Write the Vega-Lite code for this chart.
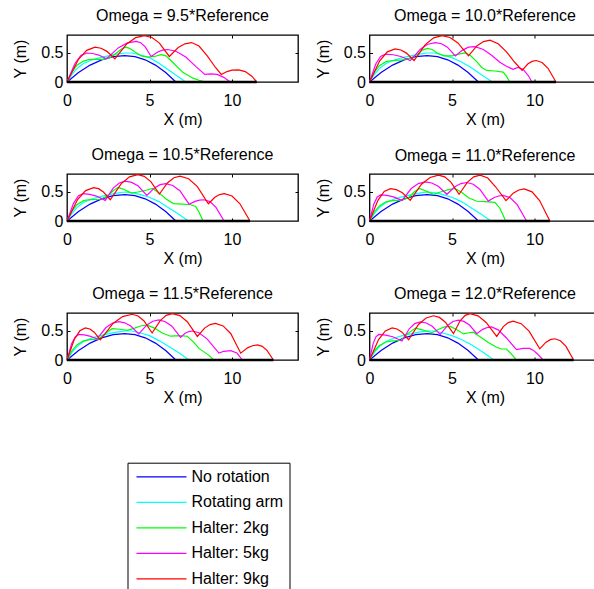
{
  "$schema": "https://vega.github.io/schema/vega-lite/v6.json",
  "background": "white",
  "padding": {"left": 12, "top": 7, "right": 0, "bottom": 0},
  "config": {
    "font": "Liberation Sans",
    "view": {"stroke": "black", "strokeWidth": 1.3},
    "axis": {"grid": false, "domain": false, "ticks": true, "tickSize": -3, "tickColor": "black", "tickWidth": 1, "labelFont": "Liberation Sans", "labelFontSize": 16, "labelColor": "black", "titleFont": "Liberation Sans", "titleFontSize": 16, "titleFontWeight": "normal", "titleColor": "black"},
    "axisX": {"labelPadding": 13, "titlePadding": 3.5, "labelFlush": false},
    "axisY": {"labelPadding": 7, "titlePadding": 12},
    "title": {"font": "Liberation Sans", "fontSize": 16, "fontWeight": "normal", "color": "black", "offset": 9, "anchor": "middle", "frame": "group"}
  },
  "resolve": {"scale": {"color": "shared"}, "legend": {"color": "shared"}},
  "bounds": "flush",
  "columns": 2,
  "spacing": {"row": 92, "column": 71.5},
  "concat": [
      {"width": 231, "height": 47, "title": "Omega = 9.5*Reference", "resolve": {"axis": {"x": "independent", "y": "independent"}}, "layer": [
        {"data": {"values": [
          {"s":"No rotation","x":0,"y":0},{"s":"No rotation","x":0.7,"y":0.164},{"s":"No rotation","x":1.4,"y":0.291},{"s":"No rotation","x":2.1,"y":0.382},{"s":"No rotation","x":2.8,"y":0.437},{"s":"No rotation","x":3.5,"y":0.455},{"s":"No rotation","x":4.12,"y":0.437},{"s":"No rotation","x":4.74,"y":0.382},{"s":"No rotation","x":5.36,"y":0.291},{"s":"No rotation","x":5.98,"y":0.164},{"s":"No rotation","x":6.6,"y":0},
          {"s":"Rotating arm","x":0,"y":0},{"s":"Rotating arm","x":0.3,"y":0.13},{"s":"Rotating arm","x":0.6,"y":0.23},{"s":"Rotating arm","x":1,"y":0.32},{"s":"Rotating arm","x":1.5,"y":0.38},{"s":"Rotating arm","x":2,"y":0.42},{"s":"Rotating arm","x":2.5,"y":0.45},{"s":"Rotating arm","x":3,"y":0.48},{"s":"Rotating arm","x":3.5,"y":0.5},{"s":"Rotating arm","x":3.9,"y":0.5},{"s":"Rotating arm","x":4.4,"y":0.47},{"s":"Rotating arm","x":5,"y":0.42},{"s":"Rotating arm","x":5.6,"y":0.32},{"s":"Rotating arm","x":6.2,"y":0.2},{"s":"Rotating arm","x":6.7,"y":0.1},{"s":"Rotating arm","x":7.2,"y":0},
          {"s":"Halter: 2kg","x":0,"y":0},{"s":"Halter: 2kg","x":0.3,"y":0.17},{"s":"Halter: 2kg","x":0.6,"y":0.29},{"s":"Halter: 2kg","x":1,"y":0.36},{"s":"Halter: 2kg","x":1.3,"y":0.385},{"s":"Halter: 2kg","x":1.7,"y":0.39},{"s":"Halter: 2kg","x":2.2,"y":0.39},{"s":"Halter: 2kg","x":2.6,"y":0.42},{"s":"Halter: 2kg","x":3,"y":0.5},{"s":"Halter: 2kg","x":3.3,"y":0.57},{"s":"Halter: 2kg","x":3.55,"y":0.6},{"s":"Halter: 2kg","x":3.8,"y":0.58},{"s":"Halter: 2kg","x":4.1,"y":0.52},{"s":"Halter: 2kg","x":4.5,"y":0.45},{"s":"Halter: 2kg","x":4.9,"y":0.43},{"s":"Halter: 2kg","x":5.3,"y":0.44},{"s":"Halter: 2kg","x":5.7,"y":0.47},{"s":"Halter: 2kg","x":6,"y":0.45},{"s":"Halter: 2kg","x":6.4,"y":0.34},{"s":"Halter: 2kg","x":7,"y":0.17},{"s":"Halter: 2kg","x":7.6,"y":0.07},{"s":"Halter: 2kg","x":8,"y":0.03},{"s":"Halter: 2kg","x":8.4,"y":0},
          {"s":"Halter: 5kg","x":0,"y":0},{"s":"Halter: 5kg","x":0.48,"y":0.32},{"s":"Halter: 5kg","x":0.84,"y":0.455},{"s":"Halter: 5kg","x":1.2,"y":0.5},{"s":"Halter: 5kg","x":1.56,"y":0.491},{"s":"Halter: 5kg","x":1.92,"y":0.464},{"s":"Halter: 5kg","x":2.4,"y":0.4},{"s":"Halter: 5kg","x":3.12,"y":0.592},{"s":"Halter: 5kg","x":3.66,"y":0.673},{"s":"Halter: 5kg","x":4.2,"y":0.7},{"s":"Halter: 5kg","x":4.47,"y":0.677},{"s":"Halter: 5kg","x":4.74,"y":0.606},{"s":"Halter: 5kg","x":5.1,"y":0.44},{"s":"Halter: 5kg","x":5.5,"y":0.517},{"s":"Halter: 5kg","x":5.8,"y":0.549},{"s":"Halter: 5kg","x":6.1,"y":0.56},{"s":"Halter: 5kg","x":6.6,"y":0.53},{"s":"Halter: 5kg","x":7.2,"y":0.43},{"s":"Halter: 5kg","x":7.8,"y":0.27},{"s":"Halter: 5kg","x":8.35,"y":0.13},{"s":"Halter: 5kg","x":8.7,"y":0.14},{"s":"Halter: 5kg","x":9.1,"y":0.13},{"s":"Halter: 5kg","x":9.5,"y":0.08},{"s":"Halter: 5kg","x":9.9,"y":0},
          {"s":"Halter: 9kg","x":0,"y":0},{"s":"Halter: 9kg","x":0.68,"y":0.384},{"s":"Halter: 9kg","x":1.19,"y":0.546},{"s":"Halter: 9kg","x":1.7,"y":0.6},{"s":"Halter: 9kg","x":2.06,"y":0.582},{"s":"Halter: 9kg","x":2.42,"y":0.528},{"s":"Halter: 9kg","x":2.9,"y":0.4},{"s":"Halter: 9kg","x":3.62,"y":0.656},{"s":"Halter: 9kg","x":4.16,"y":0.764},{"s":"Halter: 9kg","x":4.7,"y":0.8},{"s":"Halter: 9kg","x":5.15,"y":0.768},{"s":"Halter: 9kg","x":5.6,"y":0.67},{"s":"Halter: 9kg","x":6.2,"y":0.44},{"s":"Halter: 9kg","x":6.74,"y":0.594},{"s":"Halter: 9kg","x":7.15,"y":0.658},{"s":"Halter: 9kg","x":7.55,"y":0.68},{"s":"Halter: 9kg","x":8,"y":0.62},{"s":"Halter: 9kg","x":8.5,"y":0.45},{"s":"Halter: 9kg","x":9,"y":0.25},{"s":"Halter: 9kg","x":9.35,"y":0.13},{"s":"Halter: 9kg","x":9.7,"y":0.18},{"s":"Halter: 9kg","x":10,"y":0.205},{"s":"Halter: 9kg","x":10.4,"y":0.21},{"s":"Halter: 9kg","x":10.8,"y":0.18},{"s":"Halter: 9kg","x":11.2,"y":0.1},{"s":"Halter: 9kg","x":11.5,"y":0}
        ]},
         "mark": {"type": "line", "strokeWidth": 1.2},
         "encoding": {
           "x": {"field": "x", "type": "quantitative", "scale": {"domain": [0, 14], "nice": false}, "axis": {"values": [0, 5, 10], "format": "d", "title": "X (m)"}},
           "y": {"field": "y", "type": "quantitative", "scale": {"domain": [0, 0.81], "nice": false}, "axis": {"values": [0, 0.5], "format": "~g", "title": "Y (m)"}},
           "color": {"field": "s", "type": "nominal", "scale": {"domain": ["No rotation", "Rotating arm", "Halter: 2kg", "Halter: 5kg", "Halter: 9kg"], "range": ["#0000ff", "#00ffff", "#00ff00", "#ff00ff", "#ff0000"]},
             "legend": {"orient": "none", "legendX": 60.5, "legendY": 427.7, "title": null, "strokeColor": "black", "fillColor": "white", "padding": 5.6, "symbolType": "M-3.333,0H3.333", "symbolSize": 225, "symbolStrokeWidth": 1.2, "symbolOffset": 19.9, "labelFontSize": 16, "labelFont": "Liberation Sans", "labelColor": "black", "labelOffset": 21.5, "rowPadding": 8.5, "columnPadding": 2, "cornerRadius": 0}}
         }},
        {"data": {"values": [{"x": 0, "x2": 11.5, "y": 0}]}, "mark": {"type": "rule", "color": "black", "strokeWidth": 2.5},
         "encoding": {"x": {"field": "x", "type": "quantitative", "axis": {"orient": "top", "values": [5, 10], "labels": false, "title": null}}, "x2": {"field": "x2"}, "y": {"field": "y", "type": "quantitative", "axis": {"orient": "right", "values": [0.5], "labels": false, "title": null}}}}
      ]},
      {"width": 231, "height": 47, "title": "Omega = 10.0*Reference", "resolve": {"axis": {"x": "independent", "y": "independent"}}, "layer": [
        {"data": {"values": [
          {"s":"No rotation","x":0,"y":0},{"s":"No rotation","x":0.7,"y":0.164},{"s":"No rotation","x":1.4,"y":0.291},{"s":"No rotation","x":2.1,"y":0.382},{"s":"No rotation","x":2.8,"y":0.437},{"s":"No rotation","x":3.5,"y":0.455},{"s":"No rotation","x":4.12,"y":0.437},{"s":"No rotation","x":4.74,"y":0.382},{"s":"No rotation","x":5.36,"y":0.291},{"s":"No rotation","x":5.98,"y":0.164},{"s":"No rotation","x":6.6,"y":0},
          {"s":"Rotating arm","x":0,"y":0},{"s":"Rotating arm","x":0.3,"y":0.13},{"s":"Rotating arm","x":0.6,"y":0.23},{"s":"Rotating arm","x":1,"y":0.32},{"s":"Rotating arm","x":1.5,"y":0.38},{"s":"Rotating arm","x":2,"y":0.42},{"s":"Rotating arm","x":2.5,"y":0.45},{"s":"Rotating arm","x":3,"y":0.48},{"s":"Rotating arm","x":3.5,"y":0.5},{"s":"Rotating arm","x":3.9,"y":0.5},{"s":"Rotating arm","x":4.4,"y":0.47},{"s":"Rotating arm","x":5,"y":0.42},{"s":"Rotating arm","x":5.6,"y":0.34},{"s":"Rotating arm","x":6.2,"y":0.24},{"s":"Rotating arm","x":6.8,"y":0.12},{"s":"Rotating arm","x":7.45,"y":0},
          {"s":"Halter: 2kg","x":0,"y":0},{"s":"Halter: 2kg","x":0.3,"y":0.17},{"s":"Halter: 2kg","x":0.6,"y":0.28},{"s":"Halter: 2kg","x":1,"y":0.35},{"s":"Halter: 2kg","x":1.4,"y":0.37},{"s":"Halter: 2kg","x":2,"y":0.38},{"s":"Halter: 2kg","x":2.5,"y":0.41},{"s":"Halter: 2kg","x":2.9,"y":0.48},{"s":"Halter: 2kg","x":3.2,"y":0.55},{"s":"Halter: 2kg","x":3.5,"y":0.58},{"s":"Halter: 2kg","x":3.8,"y":0.56},{"s":"Halter: 2kg","x":4.1,"y":0.5},{"s":"Halter: 2kg","x":4.5,"y":0.45},{"s":"Halter: 2kg","x":5,"y":0.45},{"s":"Halter: 2kg","x":5.4,"y":0.48},{"s":"Halter: 2kg","x":5.8,"y":0.5},{"s":"Halter: 2kg","x":6.1,"y":0.46},{"s":"Halter: 2kg","x":6.5,"y":0.35},{"s":"Halter: 2kg","x":6.8,"y":0.25},{"s":"Halter: 2kg","x":7.1,"y":0.2},{"s":"Halter: 2kg","x":7.6,"y":0.19},{"s":"Halter: 2kg","x":8.1,"y":0.17},{"s":"Halter: 2kg","x":8.3,"y":0.1},{"s":"Halter: 2kg","x":8.5,"y":0},
          {"s":"Halter: 5kg","x":0,"y":0},{"s":"Halter: 5kg","x":0.38,"y":0.31},{"s":"Halter: 5kg","x":0.67,"y":0.44},{"s":"Halter: 5kg","x":0.97,"y":0.48},{"s":"Halter: 5kg","x":1.43,"y":0.47},{"s":"Halter: 5kg","x":1.9,"y":0.44},{"s":"Halter: 5kg","x":2.47,"y":0.37},{"s":"Halter: 5kg","x":3.08,"y":0.565},{"s":"Halter: 5kg","x":3.53,"y":0.65},{"s":"Halter: 5kg","x":4,"y":0.68},{"s":"Halter: 5kg","x":4.36,"y":0.66},{"s":"Halter: 5kg","x":4.72,"y":0.6},{"s":"Halter: 5kg","x":5.2,"y":0.45},{"s":"Halter: 5kg","x":5.64,"y":0.55},{"s":"Halter: 5kg","x":6,"y":0.6},{"s":"Halter: 5kg","x":6.4,"y":0.61},{"s":"Halter: 5kg","x":6.9,"y":0.56},{"s":"Halter: 5kg","x":7.4,"y":0.46},{"s":"Halter: 5kg","x":7.9,"y":0.34},{"s":"Halter: 5kg","x":8.3,"y":0.27},{"s":"Halter: 5kg","x":8.7,"y":0.22},{"s":"Halter: 5kg","x":9,"y":0.25},{"s":"Halter: 5kg","x":9.3,"y":0.22},{"s":"Halter: 5kg","x":9.6,"y":0.12},{"s":"Halter: 5kg","x":9.85,"y":0},
          {"s":"Halter: 9kg","x":0,"y":0},{"s":"Halter: 9kg","x":0.62,"y":0.365},{"s":"Halter: 9kg","x":1.08,"y":0.52},{"s":"Halter: 9kg","x":1.55,"y":0.57},{"s":"Halter: 9kg","x":1.9,"y":0.552},{"s":"Halter: 9kg","x":2.24,"y":0.498},{"s":"Halter: 9kg","x":2.7,"y":0.37},{"s":"Halter: 9kg","x":3.38,"y":0.645},{"s":"Halter: 9kg","x":3.89,"y":0.761},{"s":"Halter: 9kg","x":4.4,"y":0.8},{"s":"Halter: 9kg","x":4.88,"y":0.768},{"s":"Halter: 9kg","x":5.36,"y":0.674},{"s":"Halter: 9kg","x":6,"y":0.45},{"s":"Halter: 9kg","x":6.52,"y":0.626},{"s":"Halter: 9kg","x":6.91,"y":0.696},{"s":"Halter: 9kg","x":7.3,"y":0.72},{"s":"Halter: 9kg","x":7.8,"y":0.66},{"s":"Halter: 9kg","x":8.3,"y":0.52},{"s":"Halter: 9kg","x":8.8,"y":0.34},{"s":"Halter: 9kg","x":9.25,"y":0.2},{"s":"Halter: 9kg","x":9.59,"y":0.31},{"s":"Halter: 9kg","x":9.85,"y":0.355},{"s":"Halter: 9kg","x":10.1,"y":0.37},{"s":"Halter: 9kg","x":10.46,"y":0.336},{"s":"Halter: 9kg","x":10.82,"y":0.237},{"s":"Halter: 9kg","x":11.3,"y":0}
        ]},
         "mark": {"type": "line", "strokeWidth": 1.2},
         "encoding": {
           "x": {"field": "x", "type": "quantitative", "scale": {"domain": [0, 14], "nice": false}, "axis": {"values": [0, 5, 10], "format": "d", "title": "X (m)"}},
           "y": {"field": "y", "type": "quantitative", "scale": {"domain": [0, 0.81], "nice": false}, "axis": {"values": [0, 0.5], "format": "~g", "title": "Y (m)"}},
           "color": {"field": "s", "type": "nominal", "scale": {"domain": ["No rotation", "Rotating arm", "Halter: 2kg", "Halter: 5kg", "Halter: 9kg"], "range": ["#0000ff", "#00ffff", "#00ff00", "#ff00ff", "#ff0000"]},
             "legend": {"orient": "none", "legendX": 60.5, "legendY": 427.7, "title": null, "strokeColor": "black", "fillColor": "white", "padding": 5.6, "symbolType": "M-3.333,0H3.333", "symbolSize": 225, "symbolStrokeWidth": 1.2, "symbolOffset": 19.9, "labelFontSize": 16, "labelFont": "Liberation Sans", "labelColor": "black", "labelOffset": 21.5, "rowPadding": 8.5, "columnPadding": 2, "cornerRadius": 0}}
         }},
        {"data": {"values": [{"x": 0, "x2": 11.3, "y": 0}]}, "mark": {"type": "rule", "color": "black", "strokeWidth": 2.5},
         "encoding": {"x": {"field": "x", "type": "quantitative", "axis": {"orient": "top", "values": [5, 10], "labels": false, "title": null}}, "x2": {"field": "x2"}, "y": {"field": "y", "type": "quantitative", "axis": {"orient": "right", "values": [0.5], "labels": false, "title": null}}}}
      ]},
      {"width": 231, "height": 47, "title": "Omega = 10.5*Reference", "resolve": {"axis": {"x": "independent", "y": "independent"}}, "layer": [
        {"data": {"values": [
          {"s":"No rotation","x":0,"y":0},{"s":"No rotation","x":0.7,"y":0.164},{"s":"No rotation","x":1.4,"y":0.291},{"s":"No rotation","x":2.1,"y":0.382},{"s":"No rotation","x":2.8,"y":0.437},{"s":"No rotation","x":3.5,"y":0.455},{"s":"No rotation","x":4.12,"y":0.437},{"s":"No rotation","x":4.74,"y":0.382},{"s":"No rotation","x":5.36,"y":0.291},{"s":"No rotation","x":5.98,"y":0.164},{"s":"No rotation","x":6.6,"y":0},
          {"s":"Rotating arm","x":0,"y":0},{"s":"Rotating arm","x":0.3,"y":0.13},{"s":"Rotating arm","x":0.6,"y":0.23},{"s":"Rotating arm","x":1,"y":0.32},{"s":"Rotating arm","x":1.5,"y":0.38},{"s":"Rotating arm","x":2,"y":0.42},{"s":"Rotating arm","x":2.5,"y":0.45},{"s":"Rotating arm","x":3,"y":0.48},{"s":"Rotating arm","x":3.5,"y":0.5},{"s":"Rotating arm","x":3.9,"y":0.49},{"s":"Rotating arm","x":4.4,"y":0.46},{"s":"Rotating arm","x":5,"y":0.41},{"s":"Rotating arm","x":5.6,"y":0.33},{"s":"Rotating arm","x":6.2,"y":0.22},{"s":"Rotating arm","x":6.8,"y":0.11},{"s":"Rotating arm","x":7.35,"y":0},
          {"s":"Halter: 2kg","x":0,"y":0},{"s":"Halter: 2kg","x":0.3,"y":0.17},{"s":"Halter: 2kg","x":0.6,"y":0.28},{"s":"Halter: 2kg","x":1,"y":0.35},{"s":"Halter: 2kg","x":1.4,"y":0.37},{"s":"Halter: 2kg","x":2,"y":0.375},{"s":"Halter: 2kg","x":2.4,"y":0.42},{"s":"Halter: 2kg","x":2.8,"y":0.52},{"s":"Halter: 2kg","x":3.1,"y":0.58},{"s":"Halter: 2kg","x":3.4,"y":0.55},{"s":"Halter: 2kg","x":3.9,"y":0.48},{"s":"Halter: 2kg","x":4.3,"y":0.5},{"s":"Halter: 2kg","x":4.8,"y":0.53},{"s":"Halter: 2kg","x":5.2,"y":0.56},{"s":"Halter: 2kg","x":5.6,"y":0.48},{"s":"Halter: 2kg","x":6,"y":0.38},{"s":"Halter: 2kg","x":6.45,"y":0.3},{"s":"Halter: 2kg","x":7,"y":0.29},{"s":"Halter: 2kg","x":7.5,"y":0.28},{"s":"Halter: 2kg","x":7.8,"y":0.25},{"s":"Halter: 2kg","x":8,"y":0.15},{"s":"Halter: 2kg","x":8.25,"y":0},
          {"s":"Halter: 5kg","x":0,"y":0},{"s":"Halter: 5kg","x":0.39,"y":0.3},{"s":"Halter: 5kg","x":0.68,"y":0.43},{"s":"Halter: 5kg","x":0.97,"y":0.47},{"s":"Halter: 5kg","x":1.38,"y":0.46},{"s":"Halter: 5kg","x":1.78,"y":0.43},{"s":"Halter: 5kg","x":2.32,"y":0.355},{"s":"Halter: 5kg","x":2.8,"y":0.567},{"s":"Halter: 5kg","x":3.17,"y":0.656},{"s":"Halter: 5kg","x":3.53,"y":0.686},{"s":"Halter: 5kg","x":3.92,"y":0.665},{"s":"Halter: 5kg","x":4.32,"y":0.603},{"s":"Halter: 5kg","x":4.84,"y":0.44},{"s":"Halter: 5kg","x":5.3,"y":0.571},{"s":"Halter: 5kg","x":5.64,"y":0.627},{"s":"Halter: 5kg","x":5.99,"y":0.645},{"s":"Halter: 5kg","x":6.41,"y":0.613},{"s":"Halter: 5kg","x":6.84,"y":0.521},{"s":"Halter: 5kg","x":7.4,"y":0.29},{"s":"Halter: 5kg","x":7.76,"y":0.338},{"s":"Halter: 5kg","x":8.03,"y":0.359},{"s":"Halter: 5kg","x":8.3,"y":0.366},{"s":"Halter: 5kg","x":8.67,"y":0.334},{"s":"Halter: 5kg","x":9.03,"y":0.234},{"s":"Halter: 5kg","x":9.52,"y":0},
          {"s":"Halter: 9kg","x":0,"y":0},{"s":"Halter: 9kg","x":0.64,"y":0.369},{"s":"Halter: 9kg","x":1.13,"y":0.524},{"s":"Halter: 9kg","x":1.61,"y":0.576},{"s":"Halter: 9kg","x":1.91,"y":0.557},{"s":"Halter: 9kg","x":2.21,"y":0.5},{"s":"Halter: 9kg","x":2.62,"y":0.366},{"s":"Halter: 9kg","x":3.29,"y":0.644},{"s":"Halter: 9kg","x":3.79,"y":0.761},{"s":"Halter: 9kg","x":4.29,"y":0.8},{"s":"Halter: 9kg","x":4.68,"y":0.77},{"s":"Halter: 9kg","x":5.08,"y":0.679},{"s":"Halter: 9kg","x":5.6,"y":0.465},{"s":"Halter: 9kg","x":6.1,"y":0.66},{"s":"Halter: 9kg","x":6.48,"y":0.745},{"s":"Halter: 9kg","x":6.85,"y":0.773},{"s":"Halter: 9kg","x":7.37,"y":0.729},{"s":"Halter: 9kg","x":7.89,"y":0.597},{"s":"Halter: 9kg","x":8.57,"y":0.297},{"s":"Halter: 9kg","x":8.96,"y":0.408},{"s":"Halter: 9kg","x":9.25,"y":0.455},{"s":"Halter: 9kg","x":9.54,"y":0.47},{"s":"Halter: 9kg","x":10,"y":0.43},{"s":"Halter: 9kg","x":10.47,"y":0.301},{"s":"Halter: 9kg","x":11.09,"y":0}
        ]},
         "mark": {"type": "line", "strokeWidth": 1.2},
         "encoding": {
           "x": {"field": "x", "type": "quantitative", "scale": {"domain": [0, 14], "nice": false}, "axis": {"values": [0, 5, 10], "format": "d", "title": "X (m)"}},
           "y": {"field": "y", "type": "quantitative", "scale": {"domain": [0, 0.81], "nice": false}, "axis": {"values": [0, 0.5], "format": "~g", "title": "Y (m)"}},
           "color": {"field": "s", "type": "nominal", "scale": {"domain": ["No rotation", "Rotating arm", "Halter: 2kg", "Halter: 5kg", "Halter: 9kg"], "range": ["#0000ff", "#00ffff", "#00ff00", "#ff00ff", "#ff0000"]},
             "legend": {"orient": "none", "legendX": 60.5, "legendY": 427.7, "title": null, "strokeColor": "black", "fillColor": "white", "padding": 5.6, "symbolType": "M-3.333,0H3.333", "symbolSize": 225, "symbolStrokeWidth": 1.2, "symbolOffset": 19.9, "labelFontSize": 16, "labelFont": "Liberation Sans", "labelColor": "black", "labelOffset": 21.5, "rowPadding": 8.5, "columnPadding": 2, "cornerRadius": 0}}
         }},
        {"data": {"values": [{"x": 0, "x2": 11.09, "y": 0}]}, "mark": {"type": "rule", "color": "black", "strokeWidth": 2.5},
         "encoding": {"x": {"field": "x", "type": "quantitative", "axis": {"orient": "top", "values": [5, 10], "labels": false, "title": null}}, "x2": {"field": "x2"}, "y": {"field": "y", "type": "quantitative", "axis": {"orient": "right", "values": [0.5], "labels": false, "title": null}}}}
      ]},
      {"width": 231, "height": 47, "title": "Omega = 11.0*Reference", "resolve": {"axis": {"x": "independent", "y": "independent"}}, "layer": [
        {"data": {"values": [
          {"s":"No rotation","x":0,"y":0},{"s":"No rotation","x":0.7,"y":0.164},{"s":"No rotation","x":1.4,"y":0.291},{"s":"No rotation","x":2.1,"y":0.382},{"s":"No rotation","x":2.8,"y":0.437},{"s":"No rotation","x":3.5,"y":0.455},{"s":"No rotation","x":4.12,"y":0.437},{"s":"No rotation","x":4.74,"y":0.382},{"s":"No rotation","x":5.36,"y":0.291},{"s":"No rotation","x":5.98,"y":0.164},{"s":"No rotation","x":6.6,"y":0},
          {"s":"Rotating arm","x":0,"y":0},{"s":"Rotating arm","x":0.3,"y":0.13},{"s":"Rotating arm","x":0.6,"y":0.23},{"s":"Rotating arm","x":1,"y":0.32},{"s":"Rotating arm","x":1.5,"y":0.38},{"s":"Rotating arm","x":2,"y":0.42},{"s":"Rotating arm","x":2.5,"y":0.45},{"s":"Rotating arm","x":3,"y":0.48},{"s":"Rotating arm","x":3.5,"y":0.5},{"s":"Rotating arm","x":3.9,"y":0.49},{"s":"Rotating arm","x":4.4,"y":0.46},{"s":"Rotating arm","x":5,"y":0.41},{"s":"Rotating arm","x":5.6,"y":0.33},{"s":"Rotating arm","x":6.2,"y":0.22},{"s":"Rotating arm","x":6.8,"y":0.11},{"s":"Rotating arm","x":7.35,"y":0},
          {"s":"Halter: 2kg","x":0,"y":0},{"s":"Halter: 2kg","x":0.3,"y":0.16},{"s":"Halter: 2kg","x":0.6,"y":0.26},{"s":"Halter: 2kg","x":1,"y":0.33},{"s":"Halter: 2kg","x":1.4,"y":0.35},{"s":"Halter: 2kg","x":2,"y":0.36},{"s":"Halter: 2kg","x":2.4,"y":0.41},{"s":"Halter: 2kg","x":2.7,"y":0.5},{"s":"Halter: 2kg","x":3.02,"y":0.56},{"s":"Halter: 2kg","x":3.4,"y":0.52},{"s":"Halter: 2kg","x":3.88,"y":0.46},{"s":"Halter: 2kg","x":4.3,"y":0.5},{"s":"Halter: 2kg","x":4.8,"y":0.54},{"s":"Halter: 2kg","x":5.19,"y":0.56},{"s":"Halter: 2kg","x":5.6,"y":0.49},{"s":"Halter: 2kg","x":6,"y":0.4},{"s":"Halter: 2kg","x":6.5,"y":0.34},{"s":"Halter: 2kg","x":7,"y":0.335},{"s":"Halter: 2kg","x":7.6,"y":0.32},{"s":"Halter: 2kg","x":7.9,"y":0.22},{"s":"Halter: 2kg","x":8.1,"y":0.1},{"s":"Halter: 2kg","x":8.25,"y":0},
          {"s":"Halter: 5kg","x":0,"y":0},{"s":"Halter: 5kg","x":0.26,"y":0.29},{"s":"Halter: 5kg","x":0.46,"y":0.41},{"s":"Halter: 5kg","x":0.66,"y":0.45},{"s":"Halter: 5kg","x":1.05,"y":0.441},{"s":"Halter: 5kg","x":1.45,"y":0.416},{"s":"Halter: 5kg","x":1.97,"y":0.355},{"s":"Halter: 5kg","x":2.53,"y":0.559},{"s":"Halter: 5kg","x":2.96,"y":0.645},{"s":"Halter: 5kg","x":3.38,"y":0.674},{"s":"Halter: 5kg","x":3.77,"y":0.655},{"s":"Halter: 5kg","x":4.17,"y":0.598},{"s":"Halter: 5kg","x":4.69,"y":0.46},{"s":"Halter: 5kg","x":5.17,"y":0.589},{"s":"Halter: 5kg","x":5.54,"y":0.645},{"s":"Halter: 5kg","x":5.9,"y":0.663},{"s":"Halter: 5kg","x":6.29,"y":0.634},{"s":"Halter: 5kg","x":6.68,"y":0.548},{"s":"Halter: 5kg","x":7.2,"y":0.343},{"s":"Halter: 5kg","x":7.56,"y":0.405},{"s":"Halter: 5kg","x":7.83,"y":0.431},{"s":"Halter: 5kg","x":8.1,"y":0.44},{"s":"Halter: 5kg","x":8.53,"y":0.4},{"s":"Halter: 5kg","x":8.95,"y":0.282},{"s":"Halter: 5kg","x":9.52,"y":0},
          {"s":"Halter: 9kg","x":0,"y":0},{"s":"Halter: 9kg","x":0.51,"y":0.357},{"s":"Halter: 9kg","x":0.89,"y":0.508},{"s":"Halter: 9kg","x":1.27,"y":0.558},{"s":"Halter: 9kg","x":1.63,"y":0.54},{"s":"Halter: 9kg","x":1.99,"y":0.487},{"s":"Halter: 9kg","x":2.47,"y":0.355},{"s":"Halter: 9kg","x":3.15,"y":0.633},{"s":"Halter: 9kg","x":3.67,"y":0.751},{"s":"Halter: 9kg","x":4.18,"y":0.79},{"s":"Halter: 9kg","x":4.56,"y":0.76},{"s":"Halter: 9kg","x":4.93,"y":0.67},{"s":"Halter: 9kg","x":5.43,"y":0.46},{"s":"Halter: 9kg","x":5.94,"y":0.671},{"s":"Halter: 9kg","x":6.32,"y":0.76},{"s":"Halter: 9kg","x":6.7,"y":0.79},{"s":"Halter: 9kg","x":7.17,"y":0.74},{"s":"Halter: 9kg","x":7.64,"y":0.59},{"s":"Halter: 9kg","x":8.27,"y":0.35},{"s":"Halter: 9kg","x":8.71,"y":0.479},{"s":"Halter: 9kg","x":9.05,"y":0.534},{"s":"Halter: 9kg","x":9.38,"y":0.552},{"s":"Halter: 9kg","x":9.85,"y":0.502},{"s":"Halter: 9kg","x":10.31,"y":0.353},{"s":"Halter: 9kg","x":10.93,"y":0}
        ]},
         "mark": {"type": "line", "strokeWidth": 1.2},
         "encoding": {
           "x": {"field": "x", "type": "quantitative", "scale": {"domain": [0, 14], "nice": false}, "axis": {"values": [0, 5, 10], "format": "d", "title": "X (m)"}},
           "y": {"field": "y", "type": "quantitative", "scale": {"domain": [0, 0.81], "nice": false}, "axis": {"values": [0, 0.5], "format": "~g", "title": "Y (m)"}},
           "color": {"field": "s", "type": "nominal", "scale": {"domain": ["No rotation", "Rotating arm", "Halter: 2kg", "Halter: 5kg", "Halter: 9kg"], "range": ["#0000ff", "#00ffff", "#00ff00", "#ff00ff", "#ff0000"]},
             "legend": {"orient": "none", "legendX": 60.5, "legendY": 427.7, "title": null, "strokeColor": "black", "fillColor": "white", "padding": 5.6, "symbolType": "M-3.333,0H3.333", "symbolSize": 225, "symbolStrokeWidth": 1.2, "symbolOffset": 19.9, "labelFontSize": 16, "labelFont": "Liberation Sans", "labelColor": "black", "labelOffset": 21.5, "rowPadding": 8.5, "columnPadding": 2, "cornerRadius": 0}}
         }},
        {"data": {"values": [{"x": 0, "x2": 10.93, "y": 0}]}, "mark": {"type": "rule", "color": "black", "strokeWidth": 2.5},
         "encoding": {"x": {"field": "x", "type": "quantitative", "axis": {"orient": "top", "values": [5, 10], "labels": false, "title": null}}, "x2": {"field": "x2"}, "y": {"field": "y", "type": "quantitative", "axis": {"orient": "right", "values": [0.5], "labels": false, "title": null}}}}
      ]},
      {"width": 231, "height": 47, "title": "Omega = 11.5*Reference", "resolve": {"axis": {"x": "independent", "y": "independent"}}, "layer": [
        {"data": {"values": [
          {"s":"No rotation","x":0,"y":0},{"s":"No rotation","x":0.7,"y":0.164},{"s":"No rotation","x":1.4,"y":0.291},{"s":"No rotation","x":2.1,"y":0.382},{"s":"No rotation","x":2.8,"y":0.437},{"s":"No rotation","x":3.5,"y":0.455},{"s":"No rotation","x":4.12,"y":0.437},{"s":"No rotation","x":4.74,"y":0.382},{"s":"No rotation","x":5.36,"y":0.291},{"s":"No rotation","x":5.98,"y":0.164},{"s":"No rotation","x":6.6,"y":0},
          {"s":"Rotating arm","x":0,"y":0},{"s":"Rotating arm","x":0.3,"y":0.13},{"s":"Rotating arm","x":0.6,"y":0.23},{"s":"Rotating arm","x":1,"y":0.32},{"s":"Rotating arm","x":1.5,"y":0.38},{"s":"Rotating arm","x":2,"y":0.42},{"s":"Rotating arm","x":2.5,"y":0.45},{"s":"Rotating arm","x":3,"y":0.48},{"s":"Rotating arm","x":3.5,"y":0.5},{"s":"Rotating arm","x":3.9,"y":0.5},{"s":"Rotating arm","x":4.4,"y":0.47},{"s":"Rotating arm","x":5,"y":0.42},{"s":"Rotating arm","x":5.6,"y":0.33},{"s":"Rotating arm","x":6.2,"y":0.23},{"s":"Rotating arm","x":6.8,"y":0.12},{"s":"Rotating arm","x":7.4,"y":0},
          {"s":"Halter: 2kg","x":0,"y":0},{"s":"Halter: 2kg","x":0.3,"y":0.16},{"s":"Halter: 2kg","x":0.6,"y":0.26},{"s":"Halter: 2kg","x":1,"y":0.33},{"s":"Halter: 2kg","x":1.4,"y":0.35},{"s":"Halter: 2kg","x":1.9,"y":0.36},{"s":"Halter: 2kg","x":2.3,"y":0.45},{"s":"Halter: 2kg","x":2.73,"y":0.54},{"s":"Halter: 2kg","x":3.2,"y":0.53},{"s":"Halter: 2kg","x":3.64,"y":0.51},{"s":"Halter: 2kg","x":4.1,"y":0.55},{"s":"Halter: 2kg","x":4.5,"y":0.59},{"s":"Halter: 2kg","x":4.86,"y":0.6},{"s":"Halter: 2kg","x":5.3,"y":0.55},{"s":"Halter: 2kg","x":5.8,"y":0.46},{"s":"Halter: 2kg","x":6.28,"y":0.41},{"s":"Halter: 2kg","x":6.8,"y":0.42},{"s":"Halter: 2kg","x":7.29,"y":0.41},{"s":"Halter: 2kg","x":7.7,"y":0.3},{"s":"Halter: 2kg","x":8,"y":0.2},{"s":"Halter: 2kg","x":8.3,"y":0.14},{"s":"Halter: 2kg","x":8.6,"y":0.08},{"s":"Halter: 2kg","x":8.9,"y":0},
          {"s":"Halter: 5kg","x":0,"y":0},{"s":"Halter: 5kg","x":0.28,"y":0.282},{"s":"Halter: 5kg","x":0.5,"y":0.4},{"s":"Halter: 5kg","x":0.71,"y":0.44},{"s":"Halter: 5kg","x":1.04,"y":0.433},{"s":"Halter: 5kg","x":1.38,"y":0.412},{"s":"Halter: 5kg","x":1.82,"y":0.365},{"s":"Halter: 5kg","x":2.35,"y":0.555},{"s":"Halter: 5kg","x":2.74,"y":0.634},{"s":"Halter: 5kg","x":3.14,"y":0.66},{"s":"Halter: 5kg","x":3.5,"y":0.641},{"s":"Halter: 5kg","x":3.86,"y":0.585},{"s":"Halter: 5kg","x":4.35,"y":0.45},{"s":"Halter: 5kg","x":4.84,"y":0.604},{"s":"Halter: 5kg","x":5.2,"y":0.668},{"s":"Halter: 5kg","x":5.57,"y":0.69},{"s":"Halter: 5kg","x":5.96,"y":0.66},{"s":"Halter: 5kg","x":6.36,"y":0.582},{"s":"Halter: 5kg","x":6.88,"y":0.39},{"s":"Halter: 5kg","x":7.16,"y":0.46},{"s":"Halter: 5kg","x":7.38,"y":0.49},{"s":"Halter: 5kg","x":7.59,"y":0.5},{"s":"Halter: 5kg","x":8,"y":0.47},{"s":"Halter: 5kg","x":8.5,"y":0.36},{"s":"Halter: 5kg","x":9.21,"y":0.12},{"s":"Halter: 5kg","x":9.5,"y":0.15},{"s":"Halter: 5kg","x":9.92,"y":0.16},{"s":"Halter: 5kg","x":10.3,"y":0.12},{"s":"Halter: 5kg","x":10.63,"y":0},
          {"s":"Halter: 9kg","x":0,"y":0},{"s":"Halter: 9kg","x":0.44,"y":0.354},{"s":"Halter: 9kg","x":0.78,"y":0.503},{"s":"Halter: 9kg","x":1.11,"y":0.553},{"s":"Halter: 9kg","x":1.38,"y":0.534},{"s":"Halter: 9kg","x":1.65,"y":0.479},{"s":"Halter: 9kg","x":2.02,"y":0.347},{"s":"Halter: 9kg","x":2.79,"y":0.629},{"s":"Halter: 9kg","x":3.37,"y":0.748},{"s":"Halter: 9kg","x":3.95,"y":0.788},{"s":"Halter: 9kg","x":4.31,"y":0.759},{"s":"Halter: 9kg","x":4.67,"y":0.672},{"s":"Halter: 9kg","x":5.16,"y":0.465},{"s":"Halter: 9kg","x":5.65,"y":0.679},{"s":"Halter: 9kg","x":6.01,"y":0.77},{"s":"Halter: 9kg","x":6.38,"y":0.8},{"s":"Halter: 9kg","x":6.84,"y":0.765},{"s":"Halter: 9kg","x":7.29,"y":0.659},{"s":"Halter: 9kg","x":7.9,"y":0.406},{"s":"Halter: 9kg","x":8.34,"y":0.55},{"s":"Halter: 9kg","x":8.67,"y":0.61},{"s":"Halter: 9kg","x":9,"y":0.63},{"s":"Halter: 9kg","x":9.46,"y":0.587},{"s":"Halter: 9kg","x":9.92,"y":0.457},{"s":"Halter: 9kg","x":10.53,"y":0.118},{"s":"Halter: 9kg","x":10.94,"y":0.209},{"s":"Halter: 9kg","x":11.24,"y":0.246},{"s":"Halter: 9kg","x":11.54,"y":0.259},{"s":"Halter: 9kg","x":11.83,"y":0.236},{"s":"Halter: 9kg","x":12.12,"y":0.166},{"s":"Halter: 9kg","x":12.51,"y":0}
        ]},
         "mark": {"type": "line", "strokeWidth": 1.2},
         "encoding": {
           "x": {"field": "x", "type": "quantitative", "scale": {"domain": [0, 14], "nice": false}, "axis": {"values": [0, 5, 10], "format": "d", "title": "X (m)"}},
           "y": {"field": "y", "type": "quantitative", "scale": {"domain": [0, 0.81], "nice": false}, "axis": {"values": [0, 0.5], "format": "~g", "title": "Y (m)"}},
           "color": {"field": "s", "type": "nominal", "scale": {"domain": ["No rotation", "Rotating arm", "Halter: 2kg", "Halter: 5kg", "Halter: 9kg"], "range": ["#0000ff", "#00ffff", "#00ff00", "#ff00ff", "#ff0000"]},
             "legend": {"orient": "none", "legendX": 60.5, "legendY": 427.7, "title": null, "strokeColor": "black", "fillColor": "white", "padding": 5.6, "symbolType": "M-3.333,0H3.333", "symbolSize": 225, "symbolStrokeWidth": 1.2, "symbolOffset": 19.9, "labelFontSize": 16, "labelFont": "Liberation Sans", "labelColor": "black", "labelOffset": 21.5, "rowPadding": 8.5, "columnPadding": 2, "cornerRadius": 0}}
         }},
        {"data": {"values": [{"x": 0, "x2": 12.51, "y": 0}]}, "mark": {"type": "rule", "color": "black", "strokeWidth": 2.5},
         "encoding": {"x": {"field": "x", "type": "quantitative", "axis": {"orient": "top", "values": [5, 10], "labels": false, "title": null}}, "x2": {"field": "x2"}, "y": {"field": "y", "type": "quantitative", "axis": {"orient": "right", "values": [0.5], "labels": false, "title": null}}}}
      ]},
      {"width": 231, "height": 47, "title": "Omega = 12.0*Reference", "resolve": {"axis": {"x": "independent", "y": "independent"}}, "layer": [
        {"data": {"values": [
          {"s":"No rotation","x":0,"y":0},{"s":"No rotation","x":0.7,"y":0.164},{"s":"No rotation","x":1.4,"y":0.291},{"s":"No rotation","x":2.1,"y":0.382},{"s":"No rotation","x":2.8,"y":0.437},{"s":"No rotation","x":3.5,"y":0.455},{"s":"No rotation","x":4.12,"y":0.437},{"s":"No rotation","x":4.74,"y":0.382},{"s":"No rotation","x":5.36,"y":0.291},{"s":"No rotation","x":5.98,"y":0.164},{"s":"No rotation","x":6.6,"y":0},
          {"s":"Rotating arm","x":0,"y":0},{"s":"Rotating arm","x":0.3,"y":0.13},{"s":"Rotating arm","x":0.6,"y":0.23},{"s":"Rotating arm","x":1,"y":0.32},{"s":"Rotating arm","x":1.5,"y":0.38},{"s":"Rotating arm","x":2,"y":0.42},{"s":"Rotating arm","x":2.5,"y":0.45},{"s":"Rotating arm","x":3,"y":0.48},{"s":"Rotating arm","x":3.5,"y":0.5},{"s":"Rotating arm","x":3.9,"y":0.5},{"s":"Rotating arm","x":4.4,"y":0.47},{"s":"Rotating arm","x":5,"y":0.42},{"s":"Rotating arm","x":5.6,"y":0.35},{"s":"Rotating arm","x":6.2,"y":0.26},{"s":"Rotating arm","x":6.9,"y":0.13},{"s":"Rotating arm","x":7.55,"y":0},
          {"s":"Halter: 2kg","x":0,"y":0},{"s":"Halter: 2kg","x":0.3,"y":0.16},{"s":"Halter: 2kg","x":0.6,"y":0.25},{"s":"Halter: 2kg","x":1,"y":0.31},{"s":"Halter: 2kg","x":1.4,"y":0.33},{"s":"Halter: 2kg","x":1.9,"y":0.34},{"s":"Halter: 2kg","x":2.3,"y":0.45},{"s":"Halter: 2kg","x":2.78,"y":0.55},{"s":"Halter: 2kg","x":3.2,"y":0.52},{"s":"Halter: 2kg","x":3.78,"y":0.47},{"s":"Halter: 2kg","x":4.2,"y":0.53},{"s":"Halter: 2kg","x":4.55,"y":0.57},{"s":"Halter: 2kg","x":4.89,"y":0.58},{"s":"Halter: 2kg","x":5.3,"y":0.52},{"s":"Halter: 2kg","x":5.7,"y":0.45},{"s":"Halter: 2kg","x":6,"y":0.47},{"s":"Halter: 2kg","x":6.3,"y":0.48},{"s":"Halter: 2kg","x":6.7,"y":0.4},{"s":"Halter: 2kg","x":7.2,"y":0.3},{"s":"Halter: 2kg","x":7.7,"y":0.22},{"s":"Halter: 2kg","x":8,"y":0.19},{"s":"Halter: 2kg","x":8.3,"y":0.19},{"s":"Halter: 2kg","x":8.6,"y":0.1},{"s":"Halter: 2kg","x":8.91,"y":0},
          {"s":"Halter: 5kg","x":0,"y":0},{"s":"Halter: 5kg","x":0.22,"y":0.282},{"s":"Halter: 5kg","x":0.39,"y":0.4},{"s":"Halter: 5kg","x":0.56,"y":0.44},{"s":"Halter: 5kg","x":0.98,"y":0.43},{"s":"Halter: 5kg","x":1.41,"y":0.4},{"s":"Halter: 5kg","x":1.97,"y":0.326},{"s":"Halter: 5kg","x":2.41,"y":0.538},{"s":"Halter: 5kg","x":2.74,"y":0.627},{"s":"Halter: 5kg","x":3.08,"y":0.657},{"s":"Halter: 5kg","x":3.44,"y":0.638},{"s":"Halter: 5kg","x":3.8,"y":0.581},{"s":"Halter: 5kg","x":4.29,"y":0.44},{"s":"Halter: 5kg","x":4.73,"y":0.595},{"s":"Halter: 5kg","x":5.06,"y":0.664},{"s":"Halter: 5kg","x":5.39,"y":0.686},{"s":"Halter: 5kg","x":5.72,"y":0.665},{"s":"Halter: 5kg","x":6.06,"y":0.602},{"s":"Halter: 5kg","x":6.5,"y":0.453},{"s":"Halter: 5kg","x":6.86,"y":0.528},{"s":"Halter: 5kg","x":7.13,"y":0.559},{"s":"Halter: 5kg","x":7.4,"y":0.57},{"s":"Halter: 5kg","x":7.8,"y":0.52},{"s":"Halter: 5kg","x":8.3,"y":0.38},{"s":"Halter: 5kg","x":8.91,"y":0.18},{"s":"Halter: 5kg","x":9.3,"y":0.2},{"s":"Halter: 5kg","x":9.7,"y":0.2},{"s":"Halter: 5kg","x":9.92,"y":0.17},{"s":"Halter: 5kg","x":10.2,"y":0.1},{"s":"Halter: 5kg","x":10.52,"y":0},
          {"s":"Halter: 9kg","x":0,"y":0},{"s":"Halter: 9kg","x":0.55,"y":0.353},{"s":"Halter: 9kg","x":0.96,"y":0.502},{"s":"Halter: 9kg","x":1.37,"y":0.552},{"s":"Halter: 9kg","x":1.67,"y":0.534},{"s":"Halter: 9kg","x":1.97,"y":0.479},{"s":"Halter: 9kg","x":2.37,"y":0.349},{"s":"Halter: 9kg","x":2.97,"y":0.613},{"s":"Halter: 9kg","x":3.43,"y":0.725},{"s":"Halter: 9kg","x":3.88,"y":0.762},{"s":"Halter: 9kg","x":4.24,"y":0.734},{"s":"Halter: 9kg","x":4.6,"y":0.651},{"s":"Halter: 9kg","x":5.09,"y":0.453},{"s":"Halter: 9kg","x":5.49,"y":0.676},{"s":"Halter: 9kg","x":5.8,"y":0.769},{"s":"Halter: 9kg","x":6.1,"y":0.8},{"s":"Halter: 9kg","x":6.58,"y":0.76},{"s":"Halter: 9kg","x":7.07,"y":0.647},{"s":"Halter: 9kg","x":7.71,"y":0.407},{"s":"Halter: 9kg","x":8.11,"y":0.575},{"s":"Halter: 9kg","x":8.41,"y":0.645},{"s":"Halter: 9kg","x":8.71,"y":0.669},{"s":"Halter: 9kg","x":9.19,"y":0.626},{"s":"Halter: 9kg","x":9.67,"y":0.497},{"s":"Halter: 9kg","x":10.32,"y":0.192},{"s":"Halter: 9kg","x":10.68,"y":0.304},{"s":"Halter: 9kg","x":10.96,"y":0.35},{"s":"Halter: 9kg","x":11.23,"y":0.366},{"s":"Halter: 9kg","x":11.57,"y":0.332},{"s":"Halter: 9kg","x":11.91,"y":0.234},{"s":"Halter: 9kg","x":12.37,"y":0}
        ]},
         "mark": {"type": "line", "strokeWidth": 1.2},
         "encoding": {
           "x": {"field": "x", "type": "quantitative", "scale": {"domain": [0, 14], "nice": false}, "axis": {"values": [0, 5, 10], "format": "d", "title": "X (m)"}},
           "y": {"field": "y", "type": "quantitative", "scale": {"domain": [0, 0.81], "nice": false}, "axis": {"values": [0, 0.5], "format": "~g", "title": "Y (m)"}},
           "color": {"field": "s", "type": "nominal", "scale": {"domain": ["No rotation", "Rotating arm", "Halter: 2kg", "Halter: 5kg", "Halter: 9kg"], "range": ["#0000ff", "#00ffff", "#00ff00", "#ff00ff", "#ff0000"]},
             "legend": {"orient": "none", "legendX": 60.5, "legendY": 427.7, "title": null, "strokeColor": "black", "fillColor": "white", "padding": 5.6, "symbolType": "M-3.333,0H3.333", "symbolSize": 225, "symbolStrokeWidth": 1.2, "symbolOffset": 19.9, "labelFontSize": 16, "labelFont": "Liberation Sans", "labelColor": "black", "labelOffset": 21.5, "rowPadding": 8.5, "columnPadding": 2, "cornerRadius": 0}}
         }},
        {"data": {"values": [{"x": 0, "x2": 12.37, "y": 0}]}, "mark": {"type": "rule", "color": "black", "strokeWidth": 2.5},
         "encoding": {"x": {"field": "x", "type": "quantitative", "axis": {"orient": "top", "values": [5, 10], "labels": false, "title": null}}, "x2": {"field": "x2"}, "y": {"field": "y", "type": "quantitative", "axis": {"orient": "right", "values": [0.5], "labels": false, "title": null}}}}
      ]}
  ]
}
